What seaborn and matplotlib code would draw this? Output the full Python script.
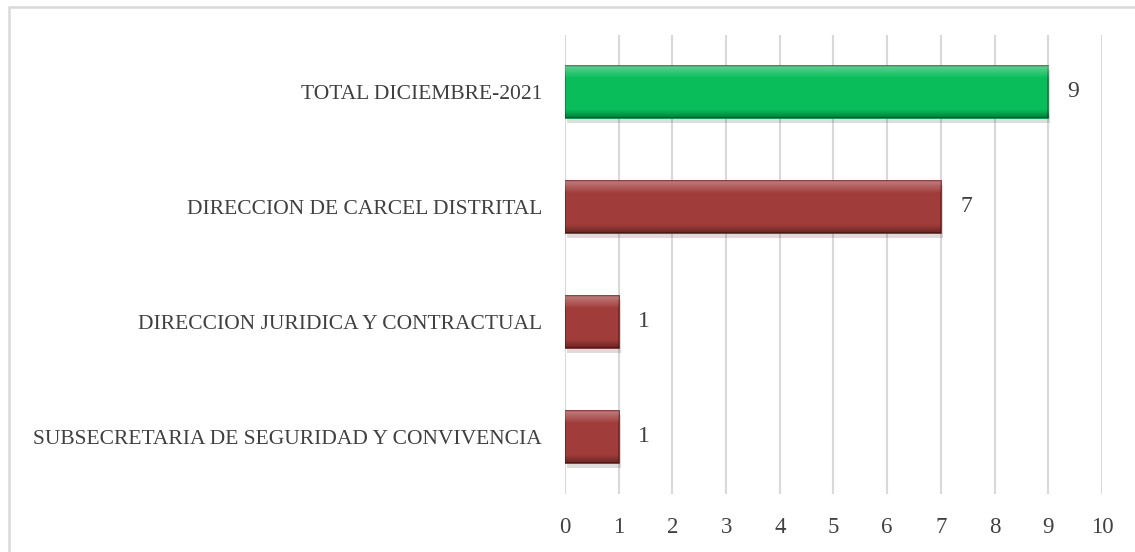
import numpy as np
import seaborn as sns
import matplotlib.pyplot as plt
import matplotlib.patheffects as pe
from matplotlib.patches import Rectangle

categorias = ["TOTAL DICIEMBRE-2021",
              "DIRECCION DE CARCEL DISTRITAL",
              "DIRECCION JURIDICA Y CONTRACTUAL",
              "SUBSECRETARIA DE SEGURIDAD Y CONVIVENCIA"]
valores = [9, 7, 1, 1]
colores = ["#08BD5A", "#A03C3A", "#A03C3A", "#A03C3A"]
bordes = ["#05843F", "#6E2422", "#6E2422", "#6E2422"]
ticks_x = list(range(0, 11))

sns.set_theme(style="white")
plt.rcParams['font.family'] = ['Liberation Serif', 'DejaVu Serif']

fig = plt.figure(figsize=(11.35, 5.52), dpi=100)
ax = fig.add_axes([0.4978, 0.1042, 0.4731, 0.8333])

sns.barplot(x=valores, y=categorias, hue=categorias, palette=colores,
            width=0.46, legend=False, ax=ax, saturation=1, zorder=3)

for p, ec in zip(ax.patches, bordes):
    p.set_edgecolor(ec)
    p.set_linewidth(1.2)
    p.set_path_effects([pe.SimplePatchShadow(offset=(1.5, -3), alpha=0.15),
                        pe.Normal()])
    # bevel: light top, dark bottom
    x0, y0 = p.get_x(), p.get_y()
    w, h = p.get_width(), p.get_height()
    g = np.linspace(0, 1, 64)
    a = np.where(g < 0.25, 0.35 * (1 - g / 0.25), 0)
    b = np.where(g > 0.85, 0.35 * (g - 0.85) / 0.15, 0)
    rgba = np.zeros((64, 1, 4))
    rgba[..., :3] = np.where((g < 0.5)[:, None, None], 1.0, 0.0)
    rgba[:, 0, 3] = a + b
    im = ax.imshow(rgba, extent=(x0, x0 + w, y0 + h, y0), aspect='auto',
                   zorder=4, interpolation='bilinear')
    im.set_clip_path(p)

for c in ax.containers:
    ax.bar_label(c, padding=14, fontsize=17, color='#404040')

ax.set_xlim(0, 10)
ax.set_ylim(3.5, -0.5)
ax.set_xticks(ticks_x)
ax.grid(axis='x', color='#D9D9D9', linewidth=1.5, zorder=0)
ax.set_axisbelow(True)
for s in ax.spines.values():
    s.set_visible(False)
ax.tick_params(axis='y', length=0, pad=16.5, labelsize=15.5, labelcolor='#404040')
ax.tick_params(axis='x', length=0, pad=16, labelsize=16.5, labelcolor='#404040')
ax.set_xlabel('')
ax.set_ylabel('')

fig.add_artist(Rectangle((9 / 1135, -0.05), 1.1, 1 - 6.5 / 552 + 0.05,
                         transform=fig.transFigure, fill=False,
                         edgecolor='#D9D9D9', linewidth=1.8))

fig.savefig('out.png', dpi=100)
